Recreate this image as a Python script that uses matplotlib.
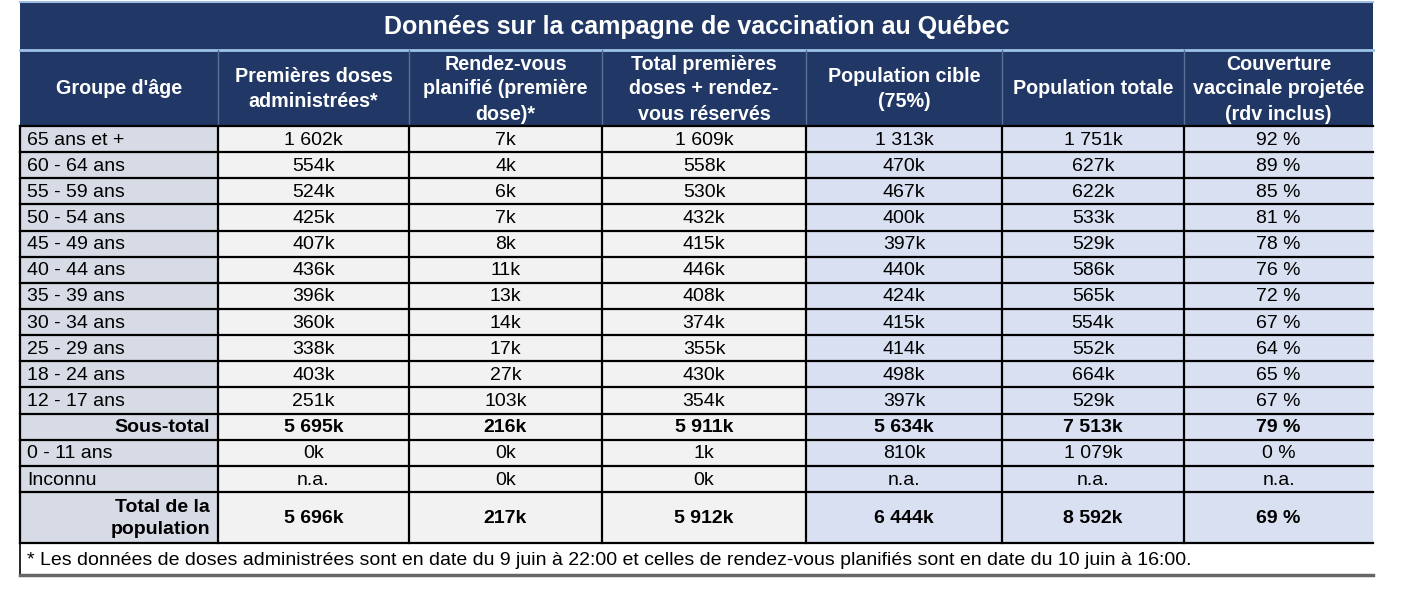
import matplotlib
matplotlib.use("Agg")
import matplotlib.pyplot as plt
from matplotlib.patches import Rectangle

plt.rcParams["font.family"] = ["Liberation Sans", "DejaVu Sans"]

# ---------------- data (thousands, None = n.a.) ----------------
title = "Données sur la campagne de vaccination au Québec"
headers = ["Groupe d'âge", "Premières doses\nadministrées*",
           "Rendez-vous\nplanifié (première\ndose)*",
           "Total premières\ndoses + rendez-\nvous réservés",
           "Population cible\n(75%)", "Population totale",
           "Couverture\nvaccinale projetée\n(rdv inclus)"]
age_groups = ["65 ans et +", "60 - 64 ans", "55 - 59 ans", "50 - 54 ans",
              "45 - 49 ans", "40 - 44 ans", "35 - 39 ans", "30 - 34 ans",
              "25 - 29 ans", "18 - 24 ans", "12 - 17 ans"]
premieres_doses = [1602, 554, 524, 425, 407, 436, 396, 360, 338, 403, 251]
rdv_planifies = [7, 4, 6, 7, 8, 11, 13, 14, 17, 27, 103]
total_premieres = [1609, 558, 530, 432, 415, 446, 408, 374, 355, 430, 354]
pop_cible = [1313, 470, 467, 400, 397, 440, 424, 415, 414, 498, 397]
pop_totale = [1751, 627, 622, 533, 529, 586, 565, 554, 552, 664, 529]
couverture = [92, 89, 85, 81, 78, 76, 72, 67, 64, 65, 67]

sous_total = [5695, 216, 5911, 5634, 7513, 79]
zero_onze = [0, 0, 1, 810, 1079, 0]
inconnu = [None, 0, 0, None, None, None]
total_pop = [5696, 217, 5912, 6444, 8592, 69]
footnote = ("* Les données de doses administrées sont en date du 9 juin à 22:00 "
            "et celles de rendez-vous planifiés sont en date du 10 juin à 16:00.")


def fmt_k(v):
    return "n.a." if v is None else f"{v:,}".replace(",", " ") + "k"


def fmt_pct(v):
    return "n.a." if v is None else f"{v} %"


def fmt_row(vals):
    return [fmt_k(v) for v in vals[:5]] + [fmt_pct(vals[5])]


# ---------------- layout ----------------
NAVY = "#213866"
COL0_BG = "#d6dbe5"
MID_BG = "#f2f2f2"
RIGHT_BG = "#d9e0f1"
col_x = [20, 218, 409, 602, 806, 1002, 1184, 1373]
y_title, y_head, y_body = 2, 50, 126
rh = 26.15
fs = 14.0

rows = []
for i, g in enumerate(age_groups):
    vals = [premieres_doses[i], rdv_planifies[i], total_premieres[i],
            pop_cible[i], pop_totale[i], couverture[i]]
    rows.append((g, fmt_row(vals), False, 1))
rows.append(("Sous-total", fmt_row(sous_total), True, 1))
rows.append(("0 - 11 ans", fmt_row(zero_onze), False, 1))
rows.append(("Inconnu", fmt_row(inconnu), False, 1))
rows.append(("Total de la\npopulation", fmt_row(total_pop), True, 2))

fig = plt.figure(figsize=(14.08, 5.89), dpi=100)
ax = fig.add_axes([0, 0, 1, 1])
ax.set_xlim(0, 1408)
ax.set_ylim(589, 0)
ax.axis("off")

# title + header background
ax.add_patch(Rectangle((col_x[0], y_title), col_x[-1] - col_x[0],
                       y_body - y_title, color=NAVY, lw=0))
ax.plot([col_x[0], col_x[-1]], [y_title, y_title], color="#9dbde3", lw=1.5)
ax.plot([col_x[0], col_x[-1]], [y_head, y_head], color="#9dc3e6", lw=2)
ax.text((col_x[0] + col_x[-1]) / 2, (y_title + y_head) / 2 + 1, title,
        ha="center", va="center", color="white", fontsize=18, weight="bold")
for j, h in enumerate(headers):
    if j > 0:
        ax.plot([col_x[j], col_x[j]], [y_head, y_body], color="#5b6f95", lw=1)
    ax.text((col_x[j] + col_x[j + 1]) / 2, (y_head + y_body) / 2 + 1, h,
            ha="center", va="center", color="white", fontsize=14.2,
            weight="bold", linespacing=1.4)

# body
y = y_body
for label, vals, bold, span in rows:
    h = rh if span == 1 else 51
    for j in range(7):
        bg = COL0_BG if j == 0 else (MID_BG if j <= 3 else RIGHT_BG)
        ax.add_patch(Rectangle((col_x[j], y), col_x[j + 1] - col_x[j], h,
                               facecolor=bg, edgecolor="none"))
    w = "bold" if bold else "normal"
    if bold:
        ax.text(col_x[1] - 8, y + h / 2 + 1, label, ha="right", va="center",
                fontsize=fs, weight=w, linespacing=1.4)
    else:
        ax.text(col_x[0] + 7, y + h / 2 + 1, label, ha="left", va="center",
                fontsize=fs)
    for j, v in enumerate(vals):
        ax.text((col_x[j + 1] + col_x[j + 2]) / 2, y + h / 2 + 1, v,
                ha="center", va="center", fontsize=fs, weight=w)
    ax.plot([col_x[0], col_x[-1]], [y, y], color="black", lw=1.6)
    y += h
y_end = y
ax.plot([col_x[0], col_x[-1]], [y_end, y_end], color="black", lw=1.6)
for xc in col_x[:-1]:
    ax.plot([xc, xc], [y_body, y_end], color="black", lw=1.6)

# footnote
y_foot = 575
ax.plot([col_x[0], col_x[0]], [y_end, y_foot], color="black", lw=1.2)
ax.plot([col_x[0], col_x[-1]], [y_foot, y_foot], color="#666666", lw=2.5)
ax.text(col_x[0] + 7, (y_end + y_foot) / 2 + 1, footnote, ha="left",
        va="center", fontsize=fs)

fig.savefig("out.png", dpi=100)
